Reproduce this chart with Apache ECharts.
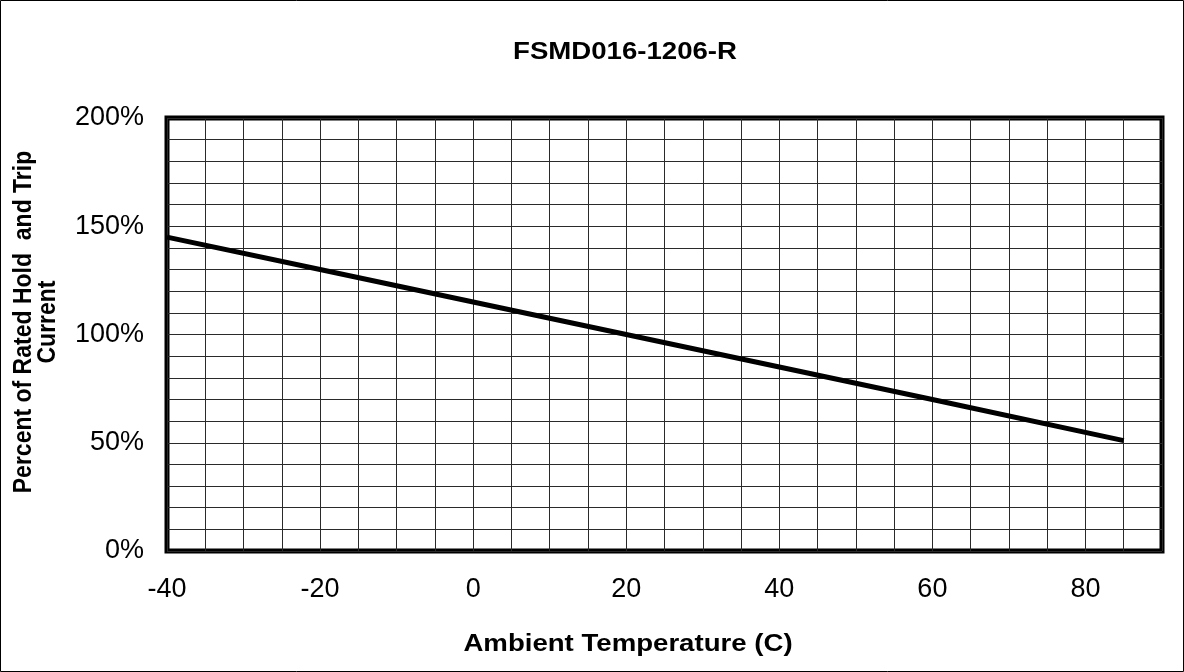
<!DOCTYPE html>
<html>
<head>
<meta charset="utf-8">
<script src="https://cdn.jsdelivr.net/npm/echarts@6/dist/echarts.min.js"></script>
<style>
  html, body { margin: 0; padding: 0; background: #fff; }
  #chart { width: 1184px; height: 672px; }
</style>
</head>
<body>
<div id="chart"></div>
<script>
// ---- data ----
const chartTitle = 'FSMD016-1206-R';
const xAxisTitle = 'Ambient Temperature (C)';
const yAxisTitle = 'Percent of Rated Hold  and Trip\nCurrent';
const temperatures = [-40, -20, 0, 20, 40, 60, 85];
const percentRated = [145, 130, 115, 100, 85, 70, 51];
const xTickLabels = [-40, -20, 0, 20, 40, 60, 80];
const yTickLabels = [0, 50, 100, 150, 200];

const chart = echarts.init(document.getElementById('chart'), null, { renderer: 'canvas' });

const tickFont = { fontFamily: 'Liberation Sans', fontSize: 27, color: '#000' };

chart.setOption({
  animation: false,
  backgroundColor: '#fff',
  grid: {
    left: 167, right: 22, top: 118, bottom: 121,
    show: true, borderColor: '#000', borderWidth: 5, backgroundColor: 'transparent'
  },
  xAxis: {
    type: 'value', min: -40, max: 90, interval: 5,
    axisLine: { show: false }, axisTick: { show: false },
    splitLine: { show: true, lineStyle: { color: '#2a2a2a', width: 1 } },
    axisLabel: Object.assign({
      margin: 25,
      formatter: v => xTickLabels.includes(v) ? String(v) : ''
    }, tickFont)
  },
  yAxis: {
    type: 'value', min: 0, max: 200, interval: 10,
    axisLine: { show: false }, axisTick: { show: false },
    splitLine: { show: true, lineStyle: { color: '#2a2a2a', width: 1 } },
    axisLabel: Object.assign({
      margin: 23,
      formatter: v => yTickLabels.includes(v) ? v + '%' : ''
    }, tickFont)
  },
  series: [{
    type: 'line',
    data: temperatures.map((t, i) => [t, percentRated[i]]),
    showSymbol: false, symbol: 'none',
    lineStyle: { color: '#000', width: 5 },
    z: 5
  }],
  graphic: [
    {
      type: 'rect', silent: true, z: 100,
      shape: { x: 0.5, y: 0.5, width: 1183, height: 671 },
      style: { fill: 'none', stroke: '#000', lineWidth: 1 }
    },
    {
      type: 'text', x: 625, y: 52, scaleX: 1.15, z: 100,
      style: {
        text: chartTitle, textAlign: 'center', textVerticalAlign: 'middle',
        font: 'bold 24px "Liberation Sans"', fill: '#000'
      }
    },
    {
      type: 'text', x: 628, y: 644, scaleX: 1.15, z: 100,
      style: {
        text: xAxisTitle, textAlign: 'center', textVerticalAlign: 'middle',
        font: 'bold 24px "Liberation Sans"', fill: '#000'
      }
    },
    {
      type: 'text', x: 36, y: 322, rotation: Math.PI / 2, scaleY: 1.15, z: 100,
      style: {
        text: yAxisTitle, textAlign: 'center', textVerticalAlign: 'middle',
        font: 'bold 23px "Liberation Sans"', lineHeight: 21, fill: '#000'
      }
    }
  ]
});
</script>
</body>
</html>
